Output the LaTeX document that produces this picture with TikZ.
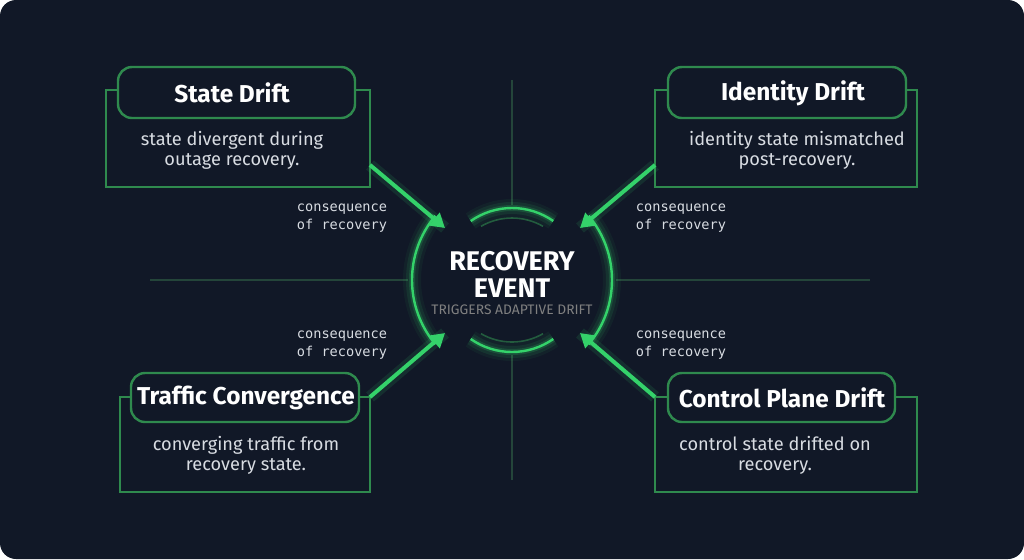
\documentclass[tikz,border=0pt]{standalone}
\usepackage{fontspec}
\setmainfont{Fira Sans}
\setmonofont{DejaVu Sans Mono}
\definecolor{bg}{HTML}{111827}
\definecolor{edge}{HTML}{2F8A4E}
\definecolor{glow}{HTML}{34D26A}
\definecolor{dim}{HTML}{24453A}
\definecolor{desc}{HTML}{D8DCE2}
\usetikzlibrary{arrows.meta}
\begin{document}
\begin{tikzpicture}[x=0.5pt,y=-0.5pt,
    panel/.style={draw=edge,line width=1.2pt,fill=bg},
    pill/.style={draw=edge,line width=1.2pt,fill=bg,rounded corners=7pt},
    title/.style={text=white,font=\fontsize{12.2}{13}\selectfont\bfseries},
    note/.style={text=desc,font=\fontsize{9.1}{10}\selectfont,align=center},
    why/.style={text=desc,font=\ttfamily\fontsize{6.8}{8.6}\selectfont,align=left},
    cross/.style={draw=dim,line width=0.8pt},
    flow/.style={draw=glow,line width=2pt,-{Triangle[length=7pt,width=8pt]}}]
    \useasboundingbox (0,0) rectangle (1024,559);
    \fill[bg,rounded corners=8pt] (0,0) rectangle (1024,559);

    % crosshair
    \draw[cross] (512,80) -- (512,205);
    \draw[cross] (512,355) -- (512,480);
    \draw[cross] (150,280) -- (408,280);
    \draw[cross] (616,280) -- (870,280);

    % hub
    \foreach \w/\o in {9/0.06,6/0.1,3/0.18} {
        \draw[glow,line width=\w pt,opacity=\o] (512,280) ++(40:100) arc (40:-40:100);
        \draw[glow,line width=\w pt,opacity=\o] (512,280) ++(140:100) arc (140:220:100);
        \draw[glow,line width=\w pt,opacity=\o] (512,280) ++(55:72) arc (55:125:72);
        \draw[glow,line width=\w pt,opacity=\o] (512,280) ++(-55:72) arc (-55:-125:72);
    }
    \draw[glow,line width=1.2pt] (512,280) ++(40:100) arc (40:-40:100);
    \draw[glow,line width=1.2pt] (512,280) ++(140:100) arc (140:220:100);
    \draw[glow,line width=1.2pt] (512,280) ++(55:72) arc (55:125:72);
    \draw[glow,line width=1.2pt] (512,280) ++(-55:72) arc (-55:-125:72);
    \draw[edge,line width=0.8pt,opacity=0.6] (512,280) ++(60:62) arc (60:120:62);
    \draw[edge,line width=0.8pt,opacity=0.6] (512,280) ++(-60:62) arc (-60:-120:62);
    \node (hub) at (512,274) [text=white,font=\fontsize{13.5}{13.5}\selectfont\bfseries,align=center] {RECOVERY\\EVENT};
    \node (sub) at (512,310) [text=gray,font=\fontsize{6.9}{7}\selectfont] {TRIGGERS ADAPTIVE DRIFT};
    \coordinate (hubNW) at (445,228);
    \coordinate (hubNE) at (580,228);
    \coordinate (hubSW) at (445,333);
    \coordinate (hubSE) at (580,333);

    % state drift
    \draw[panel] (106,90) rectangle (370,187);
    \draw[pill] (118,67) rectangle (355,118);
    \node (t1) at (232,93) [title] {State Drift};
    \node (d1) at (232,150) [note] {state divergent during\\outage recovery.};
    \coordinate (p1) at (370,165);

    % identity drift
    \draw[panel] (655,90) rectangle (917,187);
    \draw[pill] (668,67) rectangle (906,118);
    \node (t2) at (793,93) [title] {Identity Drift};
    \node (d2) at (797,150) [note] {identity state mismatched\\post-recovery.};
    \coordinate (p2) at (655,165);

    % traffic convergence
    \draw[panel] (120,397) rectangle (370,492);
    \draw[pill] (131,373) rectangle (359,422);
    \node (t3) at (246,398) [title] {Traffic Convergence};
    \node (d3) at (246,455) [note] {converging traffic from\\recovery state.};
    \coordinate (p3) at (370,397);

    % control plane drift
    \draw[panel] (655,397) rectangle (917,492);
    \draw[pill] (668,373) rectangle (895,422);
    \node (t4) at (782,398) [title] {Control Plane Drift};
    \node (d4) at (775,455) [note] {control state drifted on\\recovery.};
    \coordinate (p4) at (655,397);

    % arrows
    \foreach \a/\b in {p1/hubNW,p2/hubNE,p3/hubSW,p4/hubSE} {
        \draw[glow,line width=6pt,opacity=0.12] (\a) -- (\b);
        \draw[flow] (\a) -- (\b);
    }
    \node (w1) at (342,218) [why] {consequence\\of recovery};
    \node (w2) at (681,218) [why] {consequence\\of recovery};
    \node (w3) at (342,345) [why] {consequence\\of recovery};
    \node (w4) at (681,345) [why] {consequence\\of recovery};
\end{tikzpicture}
\end{document}
